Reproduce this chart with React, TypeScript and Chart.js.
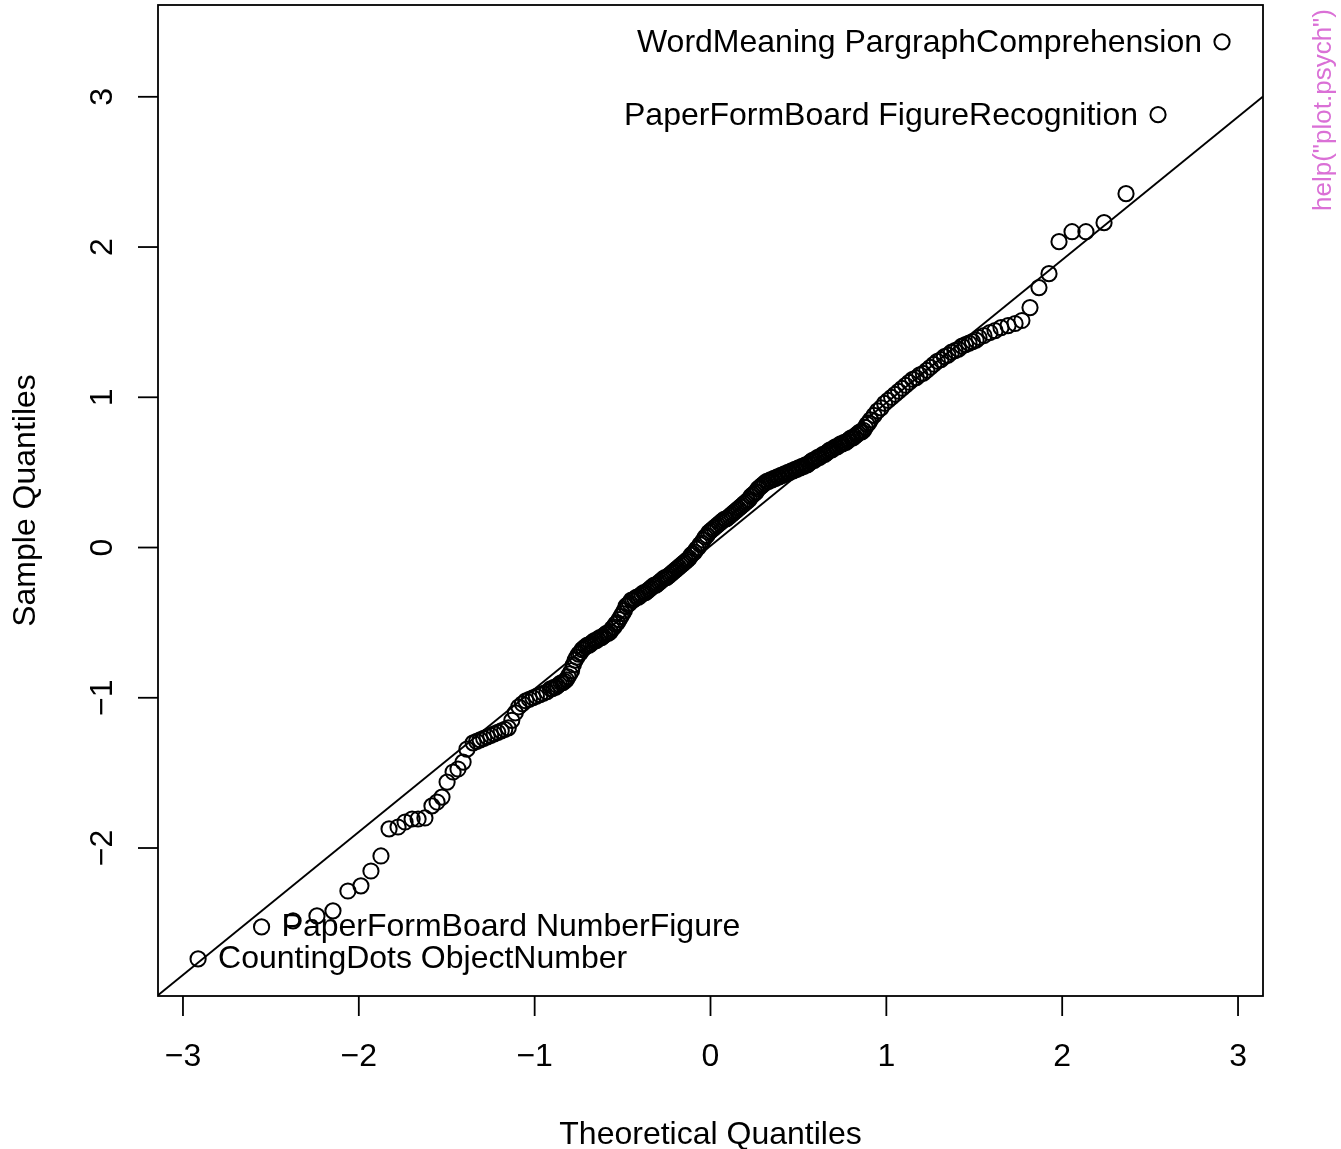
import React, { useEffect, useRef } from "react";
import { Chart, registerables } from "chart.js";

Chart.register(...registerables);

// ---- data ----
const lowerTailTheoretical = [
  -2.914, -2.553, -2.374, -2.238, -2.147, -2.062, -1.988, -1.931, -1.874, -1.828,
  -1.777, -1.737, -1.697, -1.663, -1.624, -1.584, -1.555, -1.527, -1.498, -1.464,
  -1.436, -1.407, -1.385,
];
const lowerTailSample = [
  -2.738, -2.525, -2.485, -2.452, -2.418, -2.286, -2.252, -2.153, -2.053, -1.873,
  -1.86, -1.827, -1.807, -1.807, -1.8, -1.72, -1.694, -1.661, -1.561, -1.494,
  -1.474, -1.428, -1.342,
];

const middleTheoretical = [
  -1.35, -1.33, -1.31, -1.29, -1.27, -1.25, -1.23, -1.21, -1.19, -1.17,
  -1.15, -1.13, -1.11, -1.09, -1.07, -1.05, -1.03, -1.01, -0.99, -0.97,
  -0.95, -0.93, -0.91, -0.89, -0.87, -0.85, -0.83, -0.81, -0.79, -0.77,
  -0.75, -0.73, -0.71, -0.69, -0.67, -0.65, -0.63, -0.61, -0.59, -0.57,
  -0.55, -0.53, -0.51, -0.49, -0.47, -0.45, -0.43, -0.41, -0.39, -0.37,
  -0.35, -0.33, -0.31, -0.29, -0.27, -0.25, -0.23, -0.21, -0.19, -0.17,
  -0.15, -0.13, -0.11, -0.09, -0.07, -0.05, -0.03, -0.01,
  0.01, 0.03, 0.05, 0.07, 0.09, 0.11, 0.13, 0.15, 0.17, 0.19,
  0.21, 0.23, 0.25, 0.27, 0.29, 0.31, 0.33, 0.35, 0.37, 0.39,
  0.41, 0.43, 0.45, 0.47, 0.49, 0.51, 0.53, 0.55, 0.57, 0.59,
  0.61, 0.63, 0.65, 0.67, 0.69, 0.71, 0.73, 0.75, 0.77, 0.79,
  0.81, 0.83, 0.85, 0.87, 0.89, 0.91, 0.93, 0.95, 0.97, 0.99,
  1.01, 1.03, 1.05, 1.07, 1.09, 1.11, 1.13, 1.15, 1.17, 1.19,
  1.21, 1.23, 1.25, 1.27, 1.29, 1.31, 1.33, 1.35, 1.37, 1.39,
  1.41, 1.43, 1.45, 1.47, 1.49, 1.51,
];
const middleSample = [
  -1.3, -1.29, -1.28, -1.27, -1.26, -1.25, -1.24, -1.23, -1.22, -1.21,
  -1.2, -1.15, -1.1, -1.06, -1.04, -1.02, -1.01, -1.0, -0.99, -0.98,
  -0.97, -0.96, -0.94, -0.93, -0.92, -0.9, -0.89, -0.86, -0.82, -0.75,
  -0.71, -0.68, -0.66, -0.65, -0.63, -0.62, -0.6, -0.59, -0.57, -0.56,
  -0.53, -0.5, -0.46, -0.42, -0.38, -0.35, -0.34, -0.33, -0.31, -0.3,
  -0.28, -0.26, -0.25, -0.23, -0.21, -0.2, -0.18, -0.16, -0.14, -0.12,
  -0.1, -0.08, -0.05, -0.03, 0.0, 0.03, 0.07, 0.1,
  0.12, 0.14, 0.16, 0.18, 0.19, 0.21, 0.23, 0.25, 0.27, 0.29,
  0.31, 0.34, 0.36, 0.39, 0.41, 0.43, 0.44, 0.45, 0.46, 0.47,
  0.48, 0.49, 0.5, 0.51, 0.52, 0.53, 0.54, 0.55, 0.57, 0.58,
  0.6, 0.61, 0.62, 0.64, 0.65, 0.67, 0.68, 0.69, 0.7, 0.72,
  0.73, 0.75, 0.77, 0.78, 0.82, 0.85, 0.88, 0.91, 0.93, 0.96,
  0.98, 1.0, 1.02, 1.04, 1.06, 1.08, 1.1, 1.12, 1.13, 1.15,
  1.16, 1.18, 1.2, 1.22, 1.24, 1.25, 1.27, 1.28, 1.3, 1.31,
  1.32, 1.34, 1.35, 1.36, 1.37, 1.38,
];

// the crowded centre of the band, read between the points above
const centreTheoretical = [
  -0.9, -0.88, -0.86, -0.84, -0.82, -0.8, -0.78, -0.76, -0.74, -0.72,
  -0.7, -0.68, -0.66, -0.64, -0.62, -0.6, -0.58, -0.56, -0.54, -0.52,
  -0.5, -0.48, -0.46, -0.44, -0.42, -0.4, -0.38, -0.36, -0.34, -0.32,
  -0.3, -0.28, -0.26, -0.24, -0.22, -0.2, -0.18, -0.16, -0.14, -0.12,
  -0.1, -0.08, -0.06, -0.04, -0.02, 0.0, 0.02, 0.04, 0.06, 0.08,
  0.1, 0.12, 0.14, 0.16, 0.18, 0.2, 0.22, 0.24, 0.26, 0.28,
  0.3, 0.32, 0.34, 0.36, 0.38, 0.4, 0.42, 0.44, 0.46, 0.48,
  0.5, 0.52, 0.54, 0.56, 0.58, 0.6, 0.62, 0.64, 0.66, 0.68,
  0.7, 0.72, 0.74, 0.76, 0.78, 0.8, 0.82, 0.84, 0.86, 0.88,
  0.9,
];
const centreSample = [
  -0.94, -0.93, -0.91, -0.9, -0.88, -0.84, -0.78, -0.73, -0.7, -0.67,
  -0.65, -0.64, -0.62, -0.61, -0.6, -0.58, -0.57, -0.54, -0.51, -0.48,
  -0.44, -0.39, -0.37, -0.35, -0.33, -0.32, -0.3, -0.29, -0.27, -0.25,
  -0.24, -0.22, -0.2, -0.19, -0.17, -0.15, -0.13, -0.11, -0.09, -0.07,
  -0.04, -0.01, 0.02, 0.05, 0.08, 0.11, 0.13, 0.15, 0.17, 0.19,
  0.2, 0.22, 0.24, 0.26, 0.28, 0.3, 0.32, 0.35, 0.37, 0.4,
  0.42, 0.44, 0.45, 0.46, 0.47, 0.48, 0.49, 0.5, 0.51, 0.52,
  0.53, 0.54, 0.55, 0.56, 0.58, 0.59, 0.6, 0.62, 0.63, 0.65,
  0.66, 0.67, 0.69, 0.7, 0.71, 0.73, 0.74, 0.76, 0.77, 0.8,
  0.83,
];

const upperTailTheoretical = [
  1.527, 1.555, 1.589, 1.618, 1.652, 1.692, 1.732, 1.771, 1.817, 1.868,
  1.925, 1.982, 2.056, 2.135, 2.238, 2.363, 2.545, 2.909,
];
const upperTailSample = [
  1.398, 1.411, 1.431, 1.444, 1.464, 1.477, 1.491, 1.511, 1.597, 1.73,
  1.823, 2.036, 2.102, 2.102, 2.162, 2.355, 2.881, 3.366,
];

// reference line (qqline)
const lineIntercept = 0.011;
const lineSlope = 0.952;

// point labels
const labelText = [
  "CountingDots ObjectNumber",
  "PaperFormBoard NumberFigure",
  "PaperFormBoard FigureRecognition",
  "WordMeaning PargraphComprehension",
];
const labelTheoretical = [-2.914, -2.553, 2.545, 2.909];
const labelSample = [-2.738, -2.525, 2.881, 3.366];
const labelSide = ["right", "right", "left", "left"];

// axes
const xTickValues = [-3, -2, -1, 0, 1, 2, 3];
const xTickLabels = ["−3", "−2", "−1", "0", "1", "2", "3"];
const yTickValues = [-2, -1, 0, 1, 2, 3];
const yTickLabels = ["−2", "−1", "0", "1", "2", "3"];
const X_MIN = -3.142;
const X_MAX = 3.142;
const Y_MIN = -2.985;
const Y_MAX = 3.611;

const xTitle = "Theoretical Quantiles";
const yTitle = "Sample Quantiles";
const helpNote = 'help("plot.psych")';

const FONT = '"Liberation Sans", Arial, Helvetica, sans-serif';

export default function App() {
  const ref = useRef<HTMLCanvasElement | null>(null);

  useEffect(() => {
    document.body.style.margin = "0";
    const canvas = ref.current;
    if (!canvas) return;

    const theo = [
      ...lowerTailTheoretical,
      ...middleTheoretical,
      ...centreTheoretical,
      ...upperTailTheoretical,
    ];
    const samp = [...lowerTailSample, ...middleSample, ...centreSample, ...upperTailSample];
    const points = theo.map((x, i) => ({ x, y: samp[i] }));
    const linePts = [X_MIN, X_MAX].map((x) => ({ x, y: lineIntercept + lineSlope * x }));

    const decor = {
      id: "rdecor",
      beforeDraw(chart: any) {
        const c = chart.ctx;
        c.save();
        c.fillStyle = "#ffffff";
        c.fillRect(0, 0, chart.width, chart.height);
        c.restore();
      },
      afterDraw(chart: any) {
        const c = chart.ctx as CanvasRenderingContext2D;
        const a = chart.chartArea;
        const xs = chart.scales.x;
        const ys = chart.scales.y;
        c.save();
        c.strokeStyle = "#000";
        c.fillStyle = "#000";
        c.lineWidth = 1.8;
        c.strokeRect(a.left, a.top, a.right - a.left, a.bottom - a.top);

        c.font = `32px ${FONT}`;
        // x axis
        c.textAlign = "center";
        c.textBaseline = "alphabetic";
        xTickValues.forEach((v, i) => {
          const px = xs.getPixelForValue(v);
          c.beginPath();
          c.moveTo(px, a.bottom);
          c.lineTo(px, a.bottom + 20);
          c.stroke();
          c.fillText(xTickLabels[i], px, a.bottom + 70);
        });
        // y axis
        yTickValues.forEach((v, i) => {
          const py = ys.getPixelForValue(v);
          c.beginPath();
          c.moveTo(a.left, py);
          c.lineTo(a.left - 20, py);
          c.stroke();
          c.save();
          c.translate(a.left - 46, py);
          c.rotate(-Math.PI / 2);
          c.textAlign = "center";
          c.fillText(yTickLabels[i], 0, 0);
          c.restore();
        });
        // titles
        c.textAlign = "center";
        c.fillText(xTitle, (a.left + a.right) / 2, a.bottom + 148);
        c.save();
        c.translate(a.left - 123, (a.top + a.bottom) / 2);
        c.rotate(-Math.PI / 2);
        c.fillText(yTitle, 0, 0);
        c.restore();

        // point labels
        labelText.forEach((t, i) => {
          const px = xs.getPixelForValue(labelTheoretical[i]);
          const py = ys.getPixelForValue(labelSample[i]);
          if (labelSide[i] === "right") {
            c.textAlign = "left";
            c.fillText(t, px + 20, py + 9);
          } else {
            c.textAlign = "right";
            c.fillText(t, px - 20, py + 10);
          }
        });

        // help note
        c.save();
        c.fillStyle = "#DA70D6";
        c.font = `26px ${FONT}`;
        c.translate(1331, 110);
        c.rotate(-Math.PI / 2);
        c.textAlign = "center";
        c.fillText(helpNote, 0, 0);
        c.restore();

        c.restore();
      },
    };

    const chart = new Chart(canvas, {
      type: "scatter",
      data: {
        datasets: [
          {
            type: "line",
            data: linePts,
            borderColor: "#000",
            borderWidth: 1.8,
            pointRadius: 0,
            fill: false,
            tension: 0,
          } as any,
          {
            data: points,
            pointStyle: "circle",
            pointRadius: 7.6,
            pointBorderWidth: 2,
            pointBorderColor: "#000",
            pointBackgroundColor: "rgba(0,0,0,0)",
            showLine: false,
          } as any,
        ],
      },
      options: {
        responsive: false,
        animation: false,
        devicePixelRatio: 1,
        events: [],
        layout: { padding: { left: 158, top: 5, right: 78, bottom: 153 }, autoPadding: false },
        scales: {
          x: { type: "linear", min: X_MIN, max: X_MAX, display: false },
          y: { type: "linear", min: Y_MIN, max: Y_MAX, display: false },
        },
        plugins: { legend: { display: false }, tooltip: { enabled: false } },
      } as any,
      plugins: [decor],
    });

    return () => chart.destroy();
  }, []);

  return <canvas ref={ref} width={1341} height={1149} style={{ display: "block" }} />;
}
